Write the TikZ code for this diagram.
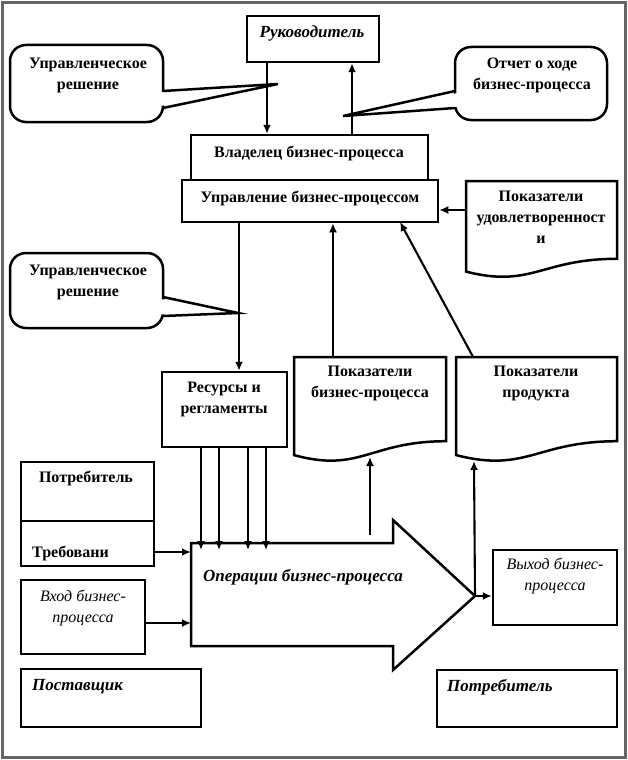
\documentclass[tikz,border=0pt]{standalone}
\usepackage{fontspec}
\setmainfont{Liberation Serif}
\usetikzlibrary{arrows.meta}
\begin{document}
\begin{tikzpicture}[x=1pt,y=-1pt,
  box/.style={draw, line width=2.5pt, fill=white, inner sep=0pt},
  lbl/.style={font=\fontsize{16}{21}\selectfont\bfseries, align=center, inner sep=0pt},
  ilbl/.style={font=\fontsize{17}{21}\selectfont\bfseries\itshape, align=center, inner sep=0pt},
  nlbl/.style={font=\fontsize{16}{21}\selectfont\itshape, align=center, inner sep=0pt},
  arr/.style={line width=2.1pt, -{Latex[length=9pt,width=8pt]}},
  tail/.style={line width=2.5pt}
]
\useasboundingbox (0,0) rectangle (628,760);
\draw[line width=2.5pt, black!60] (2.5,2.5) rectangle (625.5,757.5);

% --- top boxes
\node[box, minimum width=132pt, minimum height=46pt] (ruk) at (313,39) {};
\node[ilbl] (rukT) at (312,33) {Руководитель};
\node[box, minimum width=237pt, minimum height=45pt] (vlad) at (309.5,157.5) {};
\node[lbl] (vladT) at (309,153) {Владелец бизнес-процесса};
\node[box, minimum width=256pt, minimum height=42pt] (upr) at (310,201) {};
\node[lbl] (uprT) at (310,198) {Управление бизнес-процессом};

% --- callouts
\draw[tail, fill=white, rounded corners=16pt] (10,45) rectangle (163,122);
\fill[white] (158,92.5) -- (278,84) -- (158,106.5) -- cycle;
\draw[tail] (163,91) -- (278,84) -- (163,108);
\node[lbl] (cb1) at (88,75) {Управленческое\\решение};

\draw[tail, fill=white, rounded corners=16pt] (10,253) rectangle (163,328);
\fill[white] (158,298.5) -- (238,313) -- (158,314.5) -- cycle;
\draw[tail] (163,297) -- (238,313) -- (163,316);
\node[lbl] (cb2) at (88,282.5) {Управленческое\\решение};

\draw[tail, fill=white, rounded corners=16pt] (455,47) rectangle (607,120);
\fill[white] (460,92.5) -- (343,116) -- (460,106.5) -- cycle;
\draw[tail] (455,91) -- (343,116) -- (455,108);
\node[lbl] (cb3) at (532,75) {Отчет о ходе\\бизнес-процесса};

% --- documents
\newcommand{\docshape}[5]{%
  \draw[box] (#1,#3) -- (#2,#3) -- (#2,{#3+0.802*#4})
    .. controls ({(#1+#2)/2},{#3+0.802*#4}) and ({(#1+#2)/2-10},{#3+1.107*#4}) ..
    (#1,{#3+0.934*#4}) -- cycle;
  \node[inner sep=0pt, minimum width={#2-#1}, minimum height={0.85*#4}] (#5) at ({(#1+#2)/2},{#3+0.425*#4}) {};}
\docshape{466}{617}{181}{97}{d1}
\node[lbl] (d1T) at (541,217) {Показатели\\удовлетворенност\\и};
\docshape{294}{446}{357}{105}{d2}
\node[lbl] (d2T) at (370,383.5) {Показатели\\бизнес-процесса};
\docshape{456}{617}{357}{105}{d3}
\node[lbl] (d3T) at (536,383.5) {Показатели\\продукта};

% --- resources
\node[box, minimum width=125pt, minimum height=75pt] (res) at (224.5,409.5) {};
\node[lbl] (resT) at (224,399.5) {Ресурсы и\\регламенты};

% --- left boxes
\node[box, minimum width=133pt, minimum height=104pt] (potr) at (87.5,514) {};
\draw[tail] (potr.west |- 0,521) -- (potr.east |- 0,521);
\node[lbl] (potrT) at (86,478) {Потребитель};
\node[lbl, anchor=west] (treb) at (32,553) {Требовани};
\node[box, minimum width=124pt, minimum height=74pt] (vhod) at (83,617) {};
\node[nlbl] (vhodT) at (83,608) {Вход бизнес-\\процесса};
\node[box, minimum width=180pt, minimum height=58pt] (post) at (111,698) {};
\node[ilbl, anchor=west] (postT) at (32,687) {Поставщик};
\node[box, minimum width=180pt, minimum height=57pt] (potr2) at (527,698.5) {};
\node[ilbl, anchor=west] (potr2T) at (447,687) {Потребитель};
\node[box, minimum width=124pt, minimum height=75pt] (vyh) at (555,587.5) {};
\node[nlbl] (vyhT) at (555,576) {Выход бизнес-\\процесса};

% --- big arrow
\draw[box] (191,543) -- (393,543) -- (393,520) -- (475,596) -- (393,670) -- (393,646) -- (191,646) -- cycle;
\coordinate (tip) at (475,596);
\node[ilbl] (opT) at (303,577) {Операции бизнес-процесса};
\coordinate (opL1) at (191,552);
\coordinate (opL2) at (191,623);
\coordinate (opUp) at (370,535);

% --- connectors
\draw[arr] (ruk.south -| 267,0) -- (vlad.north -| 267,0);
\draw[arr] (vlad.north -| 352,0) -- (ruk.south -| 352,0);
\draw[arr] (upr.south -| 239,0) -- (res.north -| 239,0);
\draw[arr] (d2.north -| 333,0) -- (upr.south -| 333,0);
\draw[arr] (d3.north -| 473,0) -- (400,222);
\draw[arr] (d1.west |- 0,210) -- (upr.east |- 0,210);
\foreach \xx in {201,219,248,266} {
  \draw[arr] (res.south -| \xx,0) -- (\xx,550);
}
\draw[arr] (potr.east |- opL1) -- (opL1);
\draw[arr] (vhod.east |- opL2) -- (opL2);
\draw[arr] (opUp) -- (370,457);
\draw[arr] (tip) -- (474,461);
\draw[arr] (tip) -- (vyh.west |- tip);
\end{tikzpicture}
\end{document}
